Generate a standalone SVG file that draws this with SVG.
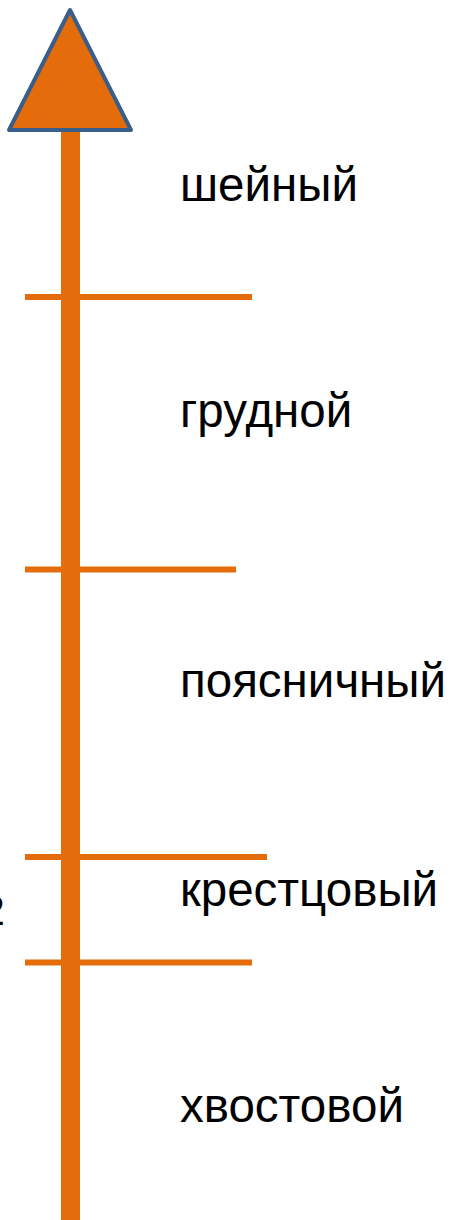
<svg xmlns="http://www.w3.org/2000/svg" width="450" height="1220" viewBox="0 0 450 1220">
<style>
.tick{stroke:#E46C0A;stroke-width:6;fill:none}
.lbl{font-family:"Liberation Sans",Arial,sans-serif;font-size:47.5px;fill:#000}
</style>
<rect width="450" height="1220" fill="#fff"/>
<g id="connectors">
<line class="tick" x1="25" y1="297" x2="252" y2="297"/>
<line class="tick" x1="25" y1="569.5" x2="236" y2="569.5"/>
<line class="tick" x1="25" y1="857" x2="267" y2="857"/>
<line class="tick" x1="25" y1="962.5" x2="252" y2="962.5"/>
</g>
<g id="axis">
<rect x="61" y="125" width="19" height="1095" fill="#E46C0A"/>
<polygon points="70,10 9,130 131,130" fill="#E46C0A" stroke="#3A5E8A" stroke-width="4" stroke-linejoin="round"/>
</g>
<g id="n1"><text class="lbl" x="180" y="201">шейный</text></g>
<g id="n2"><text class="lbl" x="180" y="427">грудной</text></g>
<g id="n3"><text class="lbl" x="180" y="697">поясничный</text></g>
<g id="n4"><text class="lbl" x="180" y="906">крестцовый</text></g>
<g id="n5"><text class="lbl" x="180" y="1122">хвостовой</text></g>
<g id="n6"><text class="lbl" x="-19" y="925" style="font-size:43px">2</text></g>
</svg>
